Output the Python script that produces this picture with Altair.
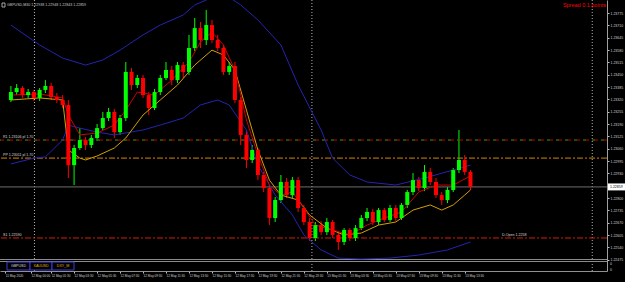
import altair as alt
import pandas as pd

FONT = "Liberation Sans"

# ---------------- data ----------------
bar_i = list(range(81))
opens = [1.23317,1.23359,1.23380,1.23343,1.23359,1.23328,1.23370,1.23391,1.23333,1.23317,
         1.23291,1.22974,1.23064,1.23106,1.23080,1.23117,1.23169,1.23222,1.23254,1.23148,
         1.23222,1.23465,1.23396,1.23433,1.23343,1.23275,1.23359,1.23433,1.23475,1.23422,
         1.23501,1.23465,1.23591,1.23696,1.23633,1.23712,1.23633,1.23591,1.23465,1.23496,
         1.23317,1.23133,1.23001,1.23054,1.22922,1.22853,1.22695,1.22790,1.22885,1.22816,
         1.22895,1.22748,1.22674,1.22590,1.22658,1.22621,1.22674,1.22606,1.22569,1.22632,
         1.22590,1.22642,1.22695,1.22727,1.22674,1.22737,1.22685,1.22748,1.22695,1.22764,
         1.22832,1.22895,1.22853,1.22938,1.22885,1.22816,1.22790,1.22843,1.22948,1.23001,
         1.22938]
closes = [1.23359,1.23380,1.23343,1.23359,1.23328,1.23370,1.23391,1.23333,1.23317,1.23291,
          1.22974,1.23064,1.23106,1.23080,1.23117,1.23169,1.23222,1.23254,1.23148,1.23222,
          1.23465,1.23396,1.23433,1.23343,1.23275,1.23359,1.23433,1.23475,1.23422,1.23501,
          1.23465,1.23591,1.23696,1.23633,1.23712,1.23633,1.23591,1.23465,1.23496,1.23317,
          1.23133,1.23001,1.23054,1.22922,1.22853,1.22695,1.22790,1.22885,1.22816,1.22895,
          1.22748,1.22674,1.22590,1.22658,1.22621,1.22674,1.22606,1.22569,1.22632,1.22590,
          1.22642,1.22695,1.22727,1.22674,1.22737,1.22685,1.22748,1.22695,1.22764,1.22832,
          1.22895,1.22853,1.22938,1.22885,1.22816,1.22790,1.22843,1.22948,1.23001,1.22938,
          1.22859]
highs = [1.23391,1.23401,1.23391,1.23375,1.23370,1.23380,1.23422,1.23407,1.23354,1.23343,
         1.23317,1.23080,1.23169,1.23122,1.23133,1.23191,1.23254,1.23275,1.23270,1.23238,
         1.23517,1.23486,1.23449,1.23449,1.23359,1.23375,1.23449,1.23517,1.23496,1.23517,
         1.23517,1.23660,1.23749,1.23728,1.23791,1.23739,1.23660,1.23607,1.23517,1.23517,
         1.23333,1.23159,1.23080,1.23064,1.22938,1.22869,1.22806,1.22922,1.22906,1.22911,
         1.22911,1.22764,1.22695,1.22674,1.22679,1.22695,1.22685,1.22621,1.22642,1.22642,
         1.22658,1.22711,1.22748,1.22743,1.22748,1.22748,1.22764,1.22764,1.22774,1.22843,
         1.22932,1.22911,1.22974,1.22959,1.22906,1.22832,1.22859,1.22959,1.23159,1.23027,
         1.22948]
lows = [1.23306,1.23343,1.23328,1.23328,1.23312,1.23312,1.23354,1.23317,1.23301,1.23275,
        1.22906,1.22869,1.23054,1.23054,1.23064,1.23101,1.23159,1.23206,1.23117,1.23133,
        1.23206,1.23370,1.23380,1.23328,1.23238,1.23264,1.23343,1.23422,1.23396,1.23407,
        1.23433,1.23449,1.23575,1.23591,1.23607,1.23617,1.23575,1.23449,1.23449,1.23301,
        1.23080,1.22959,1.22985,1.22895,1.22832,1.22658,1.22674,1.22774,1.22801,1.22801,
        1.22727,1.22658,1.22574,1.22574,1.22606,1.22606,1.22590,1.22527,1.22553,1.22574,
        1.22574,1.22632,1.22679,1.22658,1.22658,1.22674,1.22674,1.22679,1.22685,1.22748,
        1.22816,1.22837,1.22837,1.22869,1.22801,1.22764,1.22774,1.22832,1.22932,1.22922,
        1.22843]

# moving averages (sampled where read)
red_i = [0,5,9,10,12,15,18,20,22,25,28,31,33,35,37,39,41,43,45,47,49,51,53,56,59,62,65,68,71,74,77,80]
red_p = [1.23343,1.23349,1.23328,1.23238,1.23133,1.23143,1.23185,1.23264,1.23359,1.23343,1.23422,
         1.23517,1.23623,1.23675,1.23607,1.23475,1.23212,1.23027,1.22869,1.22816,1.22832,1.22748,
         1.22658,1.22632,1.22606,1.22658,1.22695,1.22727,1.22832,1.22869,1.22869,1.22917]
yel_i = [0,5,9,10,12,13,15,18,20,23,26,29,32,35,37,39,41,43,45,47,50,52,55,58,61,64,67,70,73,75,77,79,80]
yel_p = [1.23317,1.23328,1.23317,1.23054,1.23011,1.23001,1.23022,1.23064,1.23117,1.23238,1.23317,
         1.23396,1.23501,1.23580,1.23554,1.23475,1.23264,1.23054,1.22895,1.22816,1.22790,1.22711,
         1.22642,1.22606,1.22616,1.22658,1.22674,1.22737,1.22764,1.22737,1.22764,1.22816,1.22843]
# bollinger bands
up_i = [0,5,9,13,16,19,23,26,30,32,34,36,40,43,47,50,54,56,59,62,67,72,77,80]
up_p = [1.23712,1.23607,1.23538,1.23501,1.23528,1.23580,1.23660,1.23712,1.23765,1.23818,1.23844,
        1.23897,1.23818,1.23739,1.23607,1.23396,1.23159,1.23011,1.22922,1.22885,1.22869,1.22906,
        1.22948,1.22974]
lo_i = [0,4,6,9,10,12,15,18,23,26,30,33,36,38,41,43,46,49,51,54,57,61,66,71,76,80]
lo_p = [1.22980,1.23011,1.23017,1.23106,1.23185,1.23169,1.23148,1.23133,1.23159,1.23185,1.23222,
        1.23291,1.23317,1.23291,1.23159,1.22974,1.22816,1.22711,1.22606,1.22527,1.22484,1.22479,
        1.22484,1.22500,1.22527,1.22569]

# levels
lvl_r1 = 1.23106
lvl_pp = 1.23011
lvl_d = 1.22590
lvl_names = ["R1 1.23106 pl 1.70", "PP 1.23011 pl 1.70", "S1 1.22590"]
lvl_prices = [lvl_r1, lvl_pp, lvl_d]

day_sep = [4.1, 52.4, 101.2]

price_ticks = [1.23775, 1.23710, 1.23645, 1.23580, 1.23515, 1.23450, 1.23385, 1.23320, 1.23255,
               1.23190, 1.23125, 1.23060, 1.22995, 1.22930, 1.22800, 1.22735, 1.22670, 1.22605,
               1.22540, 1.22475]
time_pos = [-1, 3.5, 7, 11, 15, 19, 23, 27, 31, 35, 39, 43, 47, 51, 55, 59, 63, 67, 71, 75, 79]
time_txt = ["11 May 2020", "12 May 00:00", "12 May 01:30", "12 May 03:30", "12 May 05:30",
            "12 May 07:30", "12 May 09:30", "12 May 11:30", "12 May 13:30", "12 May 15:30",
            "12 May 17:30", "12 May 19:30", "12 May 21:30", "12 May 23:30", "13 May 01:30",
            "13 May 03:30", "13 May 05:30", "13 May 07:30", "13 May 09:30", "13 May 11:30",
            "13 May 13:30"]

title_txt = "GBPUSD,M30  1.22938 1.22948 1.22843 1.22859"
spread_txt = "Spread 0.1 points"
dopen_txt = "D-Open 1.2258"
tabs = ["GBPUSD", "XAUUSD", "DXY_M"]

# ---------------- chart ----------------
xs = alt.Scale(domain=[-1.03, 102.9], nice=False, zero=False)
ys = alt.Scale(domain=[1.22416, 1.23844], nice=False, zero=False)

candles = pd.DataFrame({"i": bar_i, "open": opens, "high": highs, "low": lows, "close": closes})
candles["dir"] = ["up" if c >= o else "down" for o, c in zip(opens, closes)]
col = alt.Color("dir:N", scale=alt.Scale(domain=["up", "down"], range=["#00ff00", "#ff0000"]), legend=None)

lab_js = "[" + ",".join("'" + t + "'" for t in time_txt) + "]"
pos_js = "[" + ",".join(str(p) for p in time_pos) + "]"

x_axis = alt.Axis(values=time_pos, labelExpr=f"{lab_js}[indexof({pos_js}, datum.value)]",
                  orient="bottom", domainColor="#909090", tickColor="#c0c0c0", tickSize=2,
                  labelColor="#d0d0d0", labelFontSize=3.1, labelFont=FONT, labelAlign="left",
                  labelBaseline="top", labelPadding=1.5, grid=False, title=None,
                  labelFlush=False, labelOverlap=False, labelBound=False)
y_axis = alt.Axis(values=price_ticks, format=".5f", orient="right", domainColor="#a0a0a0",
                  tickColor="#c0c0c0", tickSize=2, labelColor="#d0d0d0", labelFontSize=3.5,
                  labelFont=FONT, labelPadding=1, labelBaseline="middle", grid=False, title=None,
                  labelFlush=False, labelOverlap=False, labelBound=False)

X = lambda f="i:Q": alt.X(f, scale=xs, axis=x_axis)
Y = lambda f: alt.Y(f, scale=ys, axis=y_axis)

wicks = alt.Chart(candles).mark_rule(strokeWidth=1).encode(
    x=X(), y=Y("low:Q"), y2="high:Q", color=col)
bodies = alt.Chart(candles).mark_bar(size=4).encode(x=X(), y=Y("open:Q"), y2="close:Q", color=col)

seps = alt.Chart(pd.DataFrame({"i": day_sep})).mark_rule(
    color="#b4b4b4", strokeDash=[1, 2], strokeWidth=1).encode(x=X())

def level(p, color, dash, offset=0):
    return alt.Chart(pd.DataFrame({"p": [p]})).mark_rule(
        color=color, strokeDash=dash, strokeDashOffset=offset, strokeWidth=1).encode(y=Y("p:Q"))

lv1a = level(lvl_r1, "#c00000", [6, 3])
lv1b = level(lvl_r1, "#009000", [3, 6], 6)
lv2 = level(lvl_pp, "#d88400", [6, 2, 2, 2])
lv3a = level(lvl_d, "#d02000", [6, 2, 2, 2])
cur = level(closes[-1], "#6e6e6e", [1, 0])

sep_df = pd.DataFrame({"k": [0]})
win1 = alt.Chart(sep_df).mark_rule(color="#8c8c8c", strokeWidth=1).encode(
    x=alt.value(0), x2=alt.value(607), y=alt.value(259.5))
win2 = alt.Chart(sep_df).mark_rule(color="#8c8c8c", strokeWidth=1).encode(
    x=alt.value(0), x2=alt.value(607), y=alt.value(261.5))

def line(ii, pp, color):
    return alt.Chart(pd.DataFrame({"i": ii, "p": pp})).mark_line(
        color=color, strokeWidth=1, clip=True).encode(x=X(), y=Y("p:Q"))

bb_up = line(up_i, up_p, "#2424b0")
bb_lo = line(lo_i, lo_p, "#2424b0")
ma_red = line(red_i, red_p, "#d00000")
ma_yel = line(yel_i, yel_p, "#d4a000")

lvl_txt = alt.Chart(pd.DataFrame({"p": lvl_prices, "t": lvl_names})).mark_text(
    align="left", baseline="bottom", dy=-1, fontSize=3.6, font=FONT, color="#d8d8d8").encode(
    x=alt.value(3), y=Y("p:Q"), text="t:N")
dopen = alt.Chart(pd.DataFrame({"p": [lvl_d], "t": [dopen_txt]})).mark_text(
    align="left", baseline="bottom", dy=-1, fontSize=3.6, font=FONT, color="#d8d8d8").encode(
    x=alt.value(502), y=Y("p:Q"), text="t:N")

cur_df = pd.DataFrame({"p": [closes[-1]], "t": [f"{closes[-1]:.5f}"]})
cur_box = alt.Chart(cur_df).mark_point(
    shape="M-1,-0.41L1,-0.41L1,0.41L-1,0.41Z", size=289, filled=True, color="#ffffff",
    opacity=1).encode(x=alt.value(616.5), y=Y("p:Q"))
cur_lab = alt.Chart(cur_df).mark_text(align="left", baseline="middle", fontSize=3.5, font=FONT,
                                      color="#000000").encode(x=alt.value(610), y=Y("p:Q"), text="t:N")

title = alt.Chart(pd.DataFrame({"t": [title_txt]})).mark_text(
    align="left", baseline="middle", fontSize=3.6, font=FONT, color="#c8c8c8").encode(
    x=alt.value(7), y=alt.value(5), text="t:N")
icon = alt.Chart(sep_df).mark_rect(fill="#000000", stroke="#c8c8c8", strokeWidth=0.8).encode(
    x=alt.value(2), x2=alt.value(5), y=alt.value(3), y2=alt.value(7))
spread = alt.Chart(pd.DataFrame({"t": [spread_txt]})).mark_text(
    align="right", baseline="middle", fontSize=5.5, font=FONT, color="#ff0000").encode(
    x=alt.value(606), y=alt.value(5), text="t:N")

zero1 = alt.Chart(pd.DataFrame({"t": ["0"]})).mark_text(
    align="left", baseline="middle", fontSize=3.5, font=FONT, color="#d0d0d0").encode(
    x=alt.value(610), y=alt.value(263.5), text="t:N")
zero2 = alt.Chart(pd.DataFrame({"t": ["0"]})).mark_text(
    align="left", baseline="middle", fontSize=3.5, font=FONT, color="#d0d0d0").encode(
    x=alt.value(610), y=alt.value(270), text="t:N")

tab_layers = []
tab_x = [(7, 30), (30, 52), (52, 74)]
tab_col = ["#d8d8d8", "#e0b000", "#e0b000"]
for name, (a, b), c in zip(tabs, tab_x, tab_col):
    d = pd.DataFrame({"t": [name]})
    tab_layers.append(alt.Chart(d).mark_rect(fill="#000000", stroke="#3a3ad8", strokeWidth=1).encode(
        x=alt.value(a), x2=alt.value(b), y=alt.value(262), y2=alt.value(270)))
    tab_layers.append(alt.Chart(d).mark_text(align="center", baseline="middle", fontSize=3.6,
                                             font=FONT, color=c).encode(
        x=alt.value((a + b) / 2), y=alt.value(266), text="t:N"))

chart = alt.layer(
    wicks, seps, lv1a, lv1b, lv2, lv3a, cur, win1, win2,
    bb_up, bb_lo, ma_yel, ma_red, bodies,
    lvl_txt, dopen, cur_box, cur_lab, title, icon, spread, zero1, zero2, *tab_layers
).properties(
    width=607, height=271,
    padding={"left": 0, "top": 0, "right": 18, "bottom": 11},
    autosize=alt.AutoSizeParams(type="none"),
    background="#000000",
).configure_view(stroke=None)

chart.save("out.html", embed_options={"renderer": "svg", "actions": False})
